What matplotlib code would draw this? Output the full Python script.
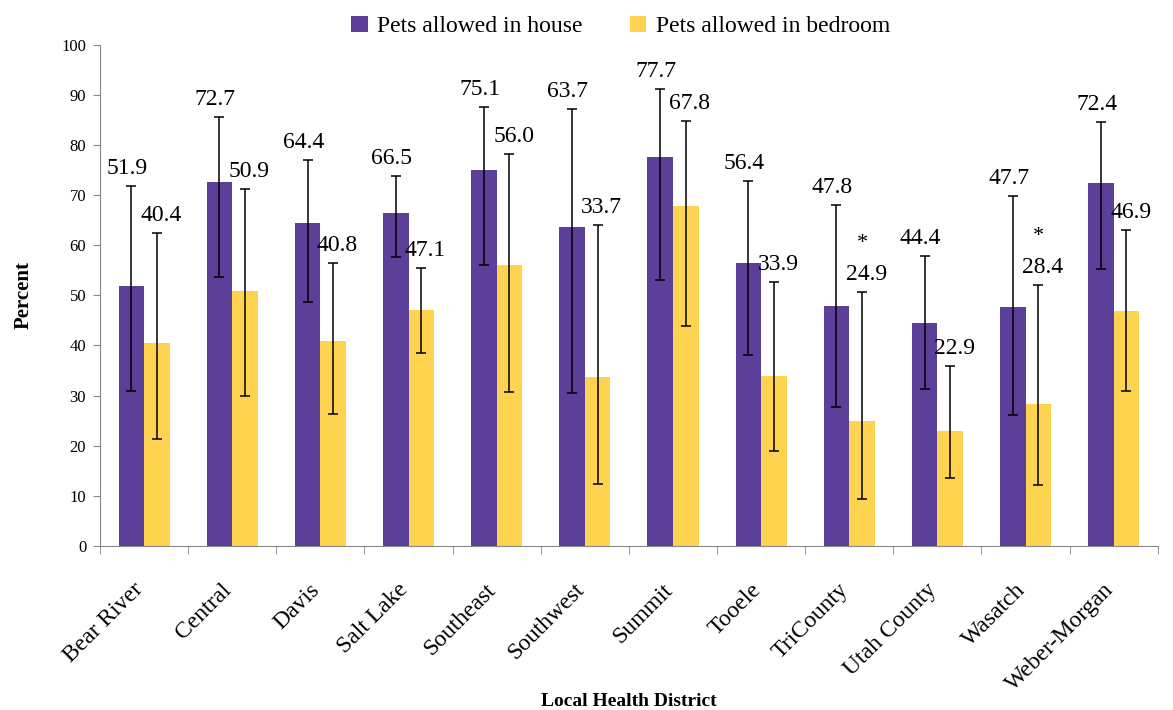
import numpy as np
import matplotlib.pyplot as plt
import matplotlib.transforms as mtransforms

plt.rcParams["font.family"] = ["Liberation Serif", "DejaVu Serif"]

districts = ["Bear River", "Central", "Davis", "Salt Lake", "Southeast",
             "Southwest", "Summit", "Tooele", "TriCounty", "Utah County",
             "Wasatch", "Weber-Morgan"]

house = [51.9, 72.7, 64.4, 66.5, 75.1, 63.7, 77.7, 56.4, 47.8, 44.4, 47.7, 72.4]
house_lo = [31.0, 53.7, 48.7, 57.6, 56.0, 30.5, 53.0, 38.2, 27.8, 31.4, 26.2, 55.2]
house_hi = [71.9, 85.6, 77.0, 73.9, 87.5, 87.1, 91.1, 72.9, 68.1, 57.8, 69.8, 84.5]

bedroom = [40.4, 50.9, 40.8, 47.1, 56.0, 33.7, 67.8, 33.9, 24.9, 22.9, 28.4, 46.9]
bedroom_lo = [21.4, 30.0, 26.4, 38.6, 30.7, 12.3, 43.8, 18.9, 9.4, 13.5, 12.2, 31.0]
bedroom_hi = [62.4, 71.3, 56.4, 55.4, 78.2, 64.1, 84.8, 52.6, 50.6, 35.9, 52.1, 63.0]

# unstable estimates get an asterisk over the label
bedroom_flag = [False] * 8 + [True, False, True, False]

purple = "#5b3f98"
yellow = "#fed34f"

fig = plt.figure(figsize=(11.73, 7.10), dpi=100)
ax = fig.add_axes([0.0853, 0.231, 0.9017, 0.706])

x = np.arange(len(districts))
w = 0.29

series = [
    (house, house_lo, house_hi, -w / 2, -3, purple, "Pets allowed in house", None),
    (bedroom, bedroom_lo, bedroom_hi, w / 2, 3, yellow, "Pets allowed in bedroom", bedroom_flag),
]

for vals, lo, hi, off, dx, color, label, flags in series:
    vals = np.array(vals)
    err = [vals - np.array(lo), np.array(hi) - vals]
    ax.bar(x + off, vals, width=w, color=color, label=label, zorder=2)
    ax.errorbar(x + off, vals, yerr=err, fmt="none", ecolor="black",
                elinewidth=1.1, capsize=3.8, capthick=1.1, zorder=3)
    for i, v in enumerate(vals):
        ax.annotate(f"{v:.1f}", (x[i] + off, hi[i]), xytext=(dx, 5),
                    textcoords="offset points", ha="center", va="bottom",
                    fontsize=17)
        if flags is not None and flags[i]:
            ax.annotate("*", (x[i] + off, hi[i]), xytext=(dx - 3, 28),
                        textcoords="offset points", ha="center", va="bottom",
                        fontsize=16)

ax.set_xlim(-0.5, len(districts) - 0.5)
ax.set_ylim(0, 100)
ax.set_yticks(np.arange(0, 101, 10))
ax.tick_params(axis="y", labelsize=12, length=5, color="#888888", pad=5)

ax.set_xticks(x)
ax.set_xticklabels(districts, rotation=45, ha="right", va="top",
                   rotation_mode="anchor", fontsize=17)
ax.tick_params(axis="x", length=0, pad=4)
# drop the slanted names so each one ends just under its bar pair
shift = mtransforms.ScaledTranslation(-8 / 72, -20 / 72, fig.dpi_scale_trans)
for lbl in ax.get_xticklabels():
    lbl.set_transform(lbl.get_transform() + shift)
ax.set_xticks(np.arange(-0.5, len(districts)), minor=True)
ax.tick_params(axis="x", which="minor", length=6, color="#888888")

for side in ["top", "right"]:
    ax.spines[side].set_visible(False)
for side in ["left", "bottom"]:
    ax.spines[side].set_color("#888888")

ax.set_ylabel("Percent", fontsize=15, fontweight="bold", labelpad=20)
ax.set_xlabel("Local Health District", fontsize=14, fontweight="bold")
ax.xaxis.set_label_coords(0.5, -0.293)

fig.legend(loc="upper center", bbox_to_anchor=(0.529, 1.008), ncol=2,
           frameon=False, fontsize=17, handlelength=0.7, handleheight=0.7,
           handletextpad=0.4, columnspacing=2.0)

fig.savefig("out.png", dpi=100)
